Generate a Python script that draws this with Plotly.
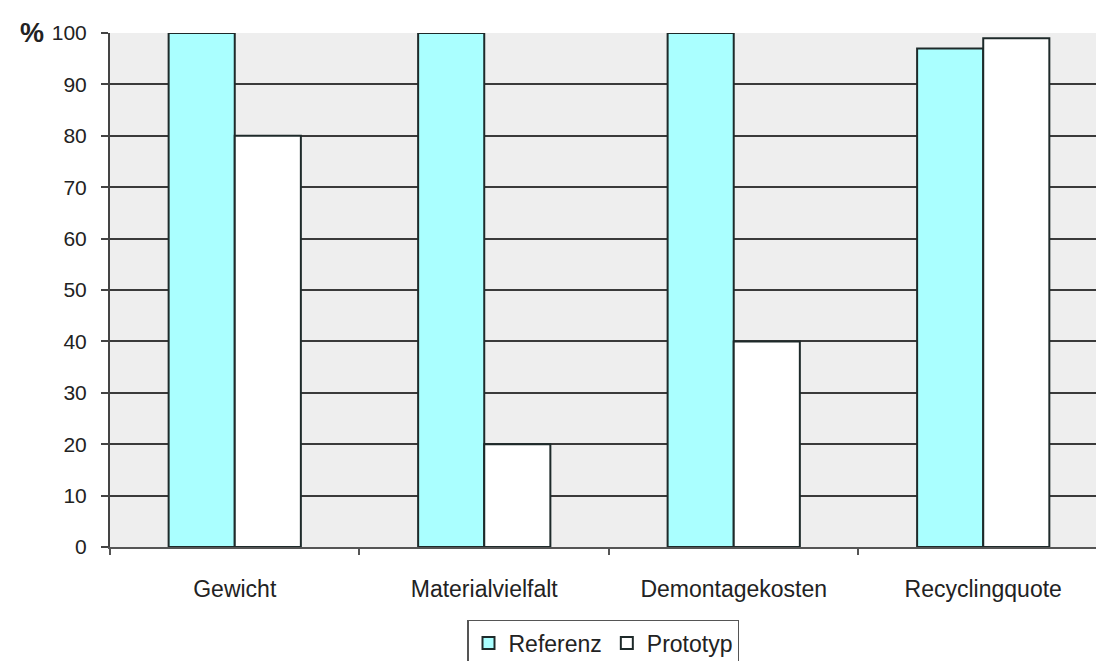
import plotly.graph_objects as go

categories = ["Gewicht", "Materialvielfalt", "Demontagekosten", "Recyclingquote"]
referenz = [100, 100, 100, 97]
prototyp = [80, 20, 40, 99]
y_ticks = list(range(0, 101, 10))

font_family = "Liberation Sans, Arial, sans-serif"
edge = dict(color="#1e2a2a", width=2)

fig = go.Figure()
fig.add_trace(go.Bar(name="Referenz", x=categories, y=referenz,
                     marker=dict(color="#aaffff", line=edge)))
fig.add_trace(go.Bar(name="Prototyp", x=categories, y=prototyp,
                     marker=dict(color="#ffffff", line=edge)))

fig.update_layout(
    width=1096, height=661,
    margin=dict(l=110, r=0, t=33, b=114, autoexpand=False),
    paper_bgcolor="white",
    plot_bgcolor="#eeeeee",
    barmode="group",
    bargap=0.47,
    bargroupgap=0,
    font=dict(family=font_family, size=22, color="#222222"),
    showlegend=True,
    legend=dict(
        orientation="h",
        x=0.5, xanchor="center",
        y=-0.142, yanchor="top",
        bordercolor="#555555", borderwidth=1.5,
        font=dict(size=23, color="#222222"),
        itemwidth=30,
        tracegroupgap=0,
    ),
)

fig.update_xaxes(
    range=[-0.5, 3.452],
    showgrid=False,
    showline=True, linecolor="#555555", linewidth=2,
    ticks="outside", tickson="boundaries", ticklen=6,
    tickcolor="#555555", tickwidth=1.5,
    tickfont=dict(size=23, color="#222222"),
    ticklabelstandoff=20,
)
fig.update_yaxes(
    range=[0, 100],
    tickvals=y_ticks,
    showgrid=True, gridcolor="#3a3a3a", gridwidth=1.6,
    showline=True, linecolor="#444444", linewidth=2,
    ticks="outside", ticklen=7, tickcolor="#444444", tickwidth=1.6,
    tickfont=dict(size=21, color="#222222"),
    ticklabelstandoff=10,
    zeroline=False,
)

fig.add_annotation(
    text="<b>%</b>", xref="paper", yref="paper",
    x=-0.079, y=1.0, xanchor="center", yanchor="middle",
    showarrow=False, font=dict(size=27, color="#222222", family=font_family),
)

fig.write_html("out.html")
